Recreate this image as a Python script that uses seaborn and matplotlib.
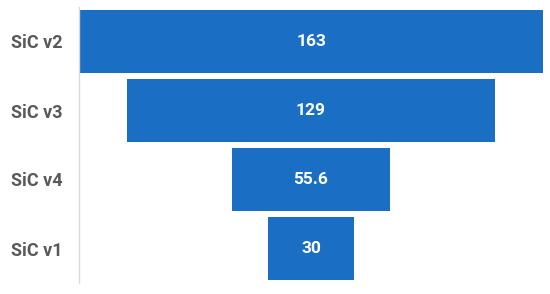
import matplotlib
matplotlib.use("Agg")
import matplotlib.pyplot as plt
import seaborn as sns
import pandas as pd

categories = ["SiC v2", "SiC v3", "SiC v4", "SiC v1"]
values = [163, 129, 55.6, 30]
value_labels = ["163", "129", "55.6", "30"]

sns.set_theme(style="white")
plt.rcParams['font.family'] = ['Roboto', 'DejaVu Sans']

df = pd.DataFrame({"stage": categories, "value": values})

fig = plt.figure(figsize=(5.5, 2.94), dpi=100)
ax = fig.add_axes([79/550, 1 - 283/294, (543 - 79)/550, (283 - 7)/294])

sns.barplot(data=df, x="value", y="stage", orient="h", color="#1A6FC5",
            saturation=1, width=0.9, ax=ax, edgecolor="none")

vmax = max(values)
for patch, v, lab in zip(ax.patches, values, value_labels):
    w = patch.get_width()
    patch.set_x((vmax - w) / 2)
    cy = patch.get_y() + patch.get_height() / 2
    ax.text(vmax / 2, cy, lab, ha="center", va="center", color="white",
            fontsize=12.5, fontweight="bold")

ax.set_xlim(0, vmax)
ax.set_ylim(3.5, -0.5)
ax.set_xlabel("")
ax.set_ylabel("")
ax.set_xticks([])
for s in ["top", "right", "bottom"]:
    ax.spines[s].set_visible(False)
ax.spines["left"].set_color("#D9D9D9")
ax.spines["left"].set_linewidth(1)
ax.tick_params(axis="y", length=0, pad=12, labelsize=13, labelcolor="#595959")
for t in ax.get_yticklabels():
    t.set_fontweight("bold")

fig.savefig("out.png", dpi=100)
